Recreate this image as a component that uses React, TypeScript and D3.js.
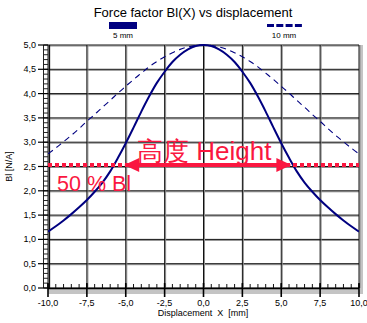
import React from "react";
import * as d3 from "d3";

// Displacement grid (mm) shared by both series
const displacement = [
  -10, -9.5, -9, -8.5, -8, -7.5, -7, -6.5, -6, -5.5, -5, -4.5, -4, -3.5, -3, -2.5, -2, -1.5, -1, -0.5,
  0, 0.5, 1, 1.5, 2, 2.5, 3, 3.5, 4, 4.5, 5, 5.5, 6, 6.5, 7, 7.5, 8, 8.5, 9, 9.5, 10,
];

// Bl(X) for the 5 mm voice coil (N/A)
const bl5mm = [
  1.16, 1.27, 1.39, 1.52, 1.66, 1.81, 1.98, 2.17, 2.4, 2.68, 2.98, 3.3, 3.63, 3.94, 4.22, 4.45, 4.65, 4.8, 4.91, 4.98,
  5.0, 4.98, 4.91, 4.8, 4.65, 4.45, 4.22, 3.94, 3.63, 3.3, 2.98, 2.68, 2.4, 2.17, 1.98, 1.81, 1.66, 1.52, 1.39, 1.27, 1.16,
];

// Bl(X) for the 10 mm voice coil (N/A)
const bl10mm = [
  2.76, 2.88, 3.01, 3.14, 3.28, 3.43, 3.57, 3.72, 3.86, 4.01, 4.15, 4.29, 4.42, 4.55, 4.66, 4.76, 4.84, 4.91, 4.96, 4.99,
  5.0, 4.99, 4.96, 4.91, 4.84, 4.76, 4.66, 4.55, 4.42, 4.29, 4.15, 4.01, 3.86, 3.72, 3.57, 3.43, 3.28, 3.14, 3.01, 2.88, 2.76,
];

const xTicks = [-10, -7.5, -5, -2.5, 0, 2.5, 5, 7.5, 10];
const yTicks = [0, 0.5, 1, 1.5, 2, 2.5, 3, 3.5, 4, 4.5, 5];

// Half-height level and the width it spans on the 5 mm curve
const halfBl = 2.53;
const heightSpan = [-5.1, 5.65];

const seriesNames = ["5 mm", "10 mm"];

const W = 367;
const H = 323;
const left = 48;
const right = 359;
const top = 45;
const bottom = 288;

const navy = "#000080";
const red = "#fa1740";
const font = "Liberation Sans, Arial, sans-serif";

const fmt = d3.formatLocale({ decimal: ",", thousands: ".", grouping: [3], currency: ["", ""], minus: "-" }).format(".1f");

export default function App() {
  const x = d3.scaleLinear().domain([-10, 10]).range([left, right]);
  const y = d3.scaleLinear().domain([0, 5]).range([bottom, top]);

  const line = (vals: number[]) =>
    d3
      .line<number>()
      .x((_, i) => x(displacement[i]))
      .y((v) => y(v))
      .curve(d3.curveCatmullRom)(vals) || "";

  const xMinor = d3.range(-10, 10.001, 0.5);
  const yMinor = d3.range(0, 5.001, 0.1);

  const tipL = x(heightSpan[0]);
  const tipR = x(heightSpan[1]);
  const ay = y(halfBl);
  const headLen = 15;
  const headHalf = 7;

  return (
    <svg width={W} height={H} style={{ position: "absolute", left: 0, top: 0, background: "#fff" }} fontFamily={font}>
      <defs>
        <clipPath id="plot">
          <rect x={left} y={top - 2} width={right - left} height={bottom - top + 2} />
        </clipPath>
      </defs>

      {/* title */}
      <text x={193} y={17} textAnchor="middle" fontSize={13} fill="#000">
        Force factor Bl(X) vs displacement
      </text>

      {/* legend */}
      <rect x={109} y={22} width={28} height={7} fill={navy} />
      <text x={123} y={38} textAnchor="middle" fontSize={8}>
        {seriesNames[0]}
      </text>
      <line x1={267} x2={302} y1={25.5} y2={25.5} stroke={navy} strokeWidth={3} strokeDasharray="7,2.3" />
      <text x={284} y={38} textAnchor="middle" fontSize={8}>
        {seriesNames[1]}
      </text>

      {/* frame shadow */}
      <rect x={left} y={bottom + 2} width={right - left + 4} height={4} fill="#c4c4c4" />
      <rect x={right + 1} y={top} width={3} height={bottom - top + 4} fill="#c4c4c4" />

      {/* grid */}
      {yTicks.map((t) => (
        <g key={"gy" + t}>
          <line x1={left} x2={right} y1={y(t) + 1} y2={y(t) + 1} stroke="#8c8c8c" strokeWidth={1} />
          <line x1={left} x2={right} y1={y(t)} y2={y(t)} stroke="#111" strokeWidth={1} />
        </g>
      ))}
      {xTicks.map((t) => (
        <g key={"gx" + t}>
          <line x1={x(t) + 1} x2={x(t) + 1} y1={top} y2={bottom} stroke="#8c8c8c" strokeWidth={1} />
          <line x1={x(t)} x2={x(t)} y1={top} y2={bottom} stroke="#111" strokeWidth={1} />
        </g>
      ))}
      <line x1={left + 1.5} x2={left + 1.5} y1={top} y2={bottom} stroke="#111" strokeWidth={1.3} />

      {/* y axis ladder */}
      <line x1={43.5} x2={43.5} y1={top} y2={bottom} stroke="#222" strokeWidth={1} />
      {yMinor.map((t, i) => (
        <line key={"ym" + i} x1={43.5} x2={left} y1={y(t)} y2={y(t)} stroke="#222" strokeWidth={1} />
      ))}
      {yTicks.map((t) => (
        <g key={"yt" + t}>
          <line x1={38} x2={left} y1={y(t)} y2={y(t)} stroke="#000" strokeWidth={1.2} />
          <text x={36} y={y(t) + 3} textAnchor="end" fontSize={9}>
            {fmt(t)}
          </text>
        </g>
      ))}

      {/* x axis ticks */}
      <line x1={left} x2={right} y1={bottom + 0.5} y2={bottom + 0.5} stroke="#000" strokeWidth={1.5} />
      {xMinor.map((t, i) => (
        <line key={"xm" + i} x1={x(t)} x2={x(t)} y1={bottom - 4} y2={bottom} stroke="#111" strokeWidth={1} />
      ))}
      {xTicks.map((t) => (
        <g key={"xt" + t}>
          <line x1={x(t)} x2={x(t)} y1={bottom - 5} y2={bottom + 9} stroke="#000" strokeWidth={1.6} />
          <text x={x(t)} y={bottom + 18} textAnchor="middle" fontSize={9}>
            {fmt(t)}
          </text>
        </g>
      ))}

      {/* axis titles */}
      <text x={203} y={316} textAnchor="middle" fontSize={9} style={{ whiteSpace: "pre" }}>
        {"Displacement  X  [mm]"}
      </text>
      <text transform={`translate(12,${y(2.5)}) rotate(-90)`} textAnchor="middle" fontSize={9}>
        Bl [N/A]
      </text>

      {/* curves */}
      <g clipPath="url(#plot)">
        <path d={line(bl10mm)} fill="none" stroke={navy} strokeWidth={1.1} strokeDasharray="6,4.5" />
        <path d={line(bl5mm)} fill="none" stroke={navy} strokeWidth={2} />
      </g>

      {/* half-height marker */}
      <line x1={left} x2={right} y1={ay} y2={ay} stroke={red} strokeWidth={4} strokeDasharray="4,3" />
      <line x1={tipL + headLen - 1} x2={tipR - headLen + 1} y1={ay} y2={ay} stroke={red} strokeWidth={4} />
      <path d={`M${tipL},${ay} L${tipL + headLen},${ay - headHalf} L${tipL + headLen},${ay + headHalf} Z`} fill={red} />
      <path d={`M${tipR},${ay} L${tipR - headLen},${ay - headHalf} L${tipR - headLen},${ay + headHalf} Z`} fill={red} />
      <text x={137} y={160} fontSize={26} fill={red}>
        高度 Height
      </text>
      <text x={57} y={191} fontSize={21.5} fill={red}>
        50 % Bl
      </text>
    </svg>
  );
}
